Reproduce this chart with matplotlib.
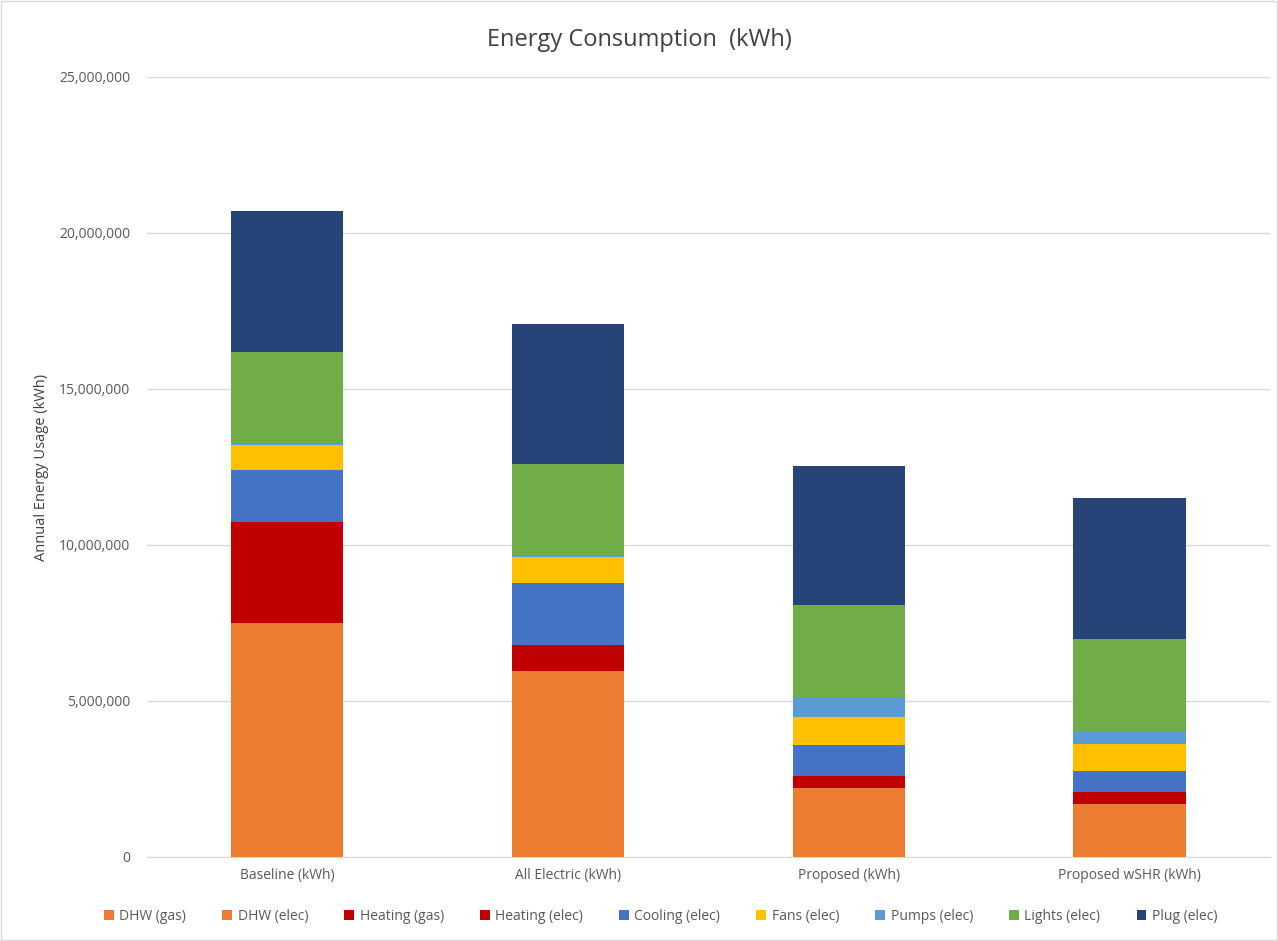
import matplotlib
matplotlib.use("Agg")
import matplotlib.pyplot as plt
import numpy as np
from matplotlib.ticker import FuncFormatter

plt.rcParams['font.family'] = ['Open Sans', 'DejaVu Sans']

categories = ['Baseline (kWh)', 'All Electric (kWh)', 'Proposed (kWh)', 'Proposed wSHR (kWh)']
series = ['DHW (gas)', 'DHW (elec)', 'Heating (gas)', 'Heating (elec)', 'Cooling (elec)',
          'Fans (elec)', 'Pumps (elec)', 'Lights (elec)', 'Plug (elec)']
colors = ['#ED7D31', '#ED7D31', '#C00000', '#C00000', '#4472C4',
          '#FFC000', '#5B9BD5', '#70AD47', '#264478']

dhw_gas = [7500000, 0, 0, 0]
dhw_elec = [0, 5960000, 2210000, 1700000]
heating_gas = [3240000, 0, 0, 0]
heating_elec = [0, 830000, 380000, 380000]
cooling = [1660000, 1990000, 990000, 670000]
fans = [800000, 830000, 900000, 870000]
pumps = [50000, 30000, 640000, 420000]
lights = [2950000, 2950000, 2950000, 2950000]
plug = [4490000, 4490000, 4450000, 4520000]

data = [dhw_gas, dhw_elec, heating_gas, heating_elec, cooling, fans, pumps, lights, plug]

fig = plt.figure(figsize=(12.78, 9.41), dpi=100)
ax = fig.add_axes([0.115, 0.0893, 0.8787, 0.8289])

x = np.arange(len(categories))
bottom = np.zeros(len(categories))
for name, vals, c in zip(series, data, colors):
    ax.bar(x, vals, 0.4, bottom=bottom, color=c, label=name, zorder=3)
    bottom += np.array(vals)

ax.set_xlim(-0.5, 3.5)
ax.set_ylim(0, 25000000)
ax.set_yticks(np.arange(0, 25000001, 5000000))
ax.yaxis.set_major_formatter(FuncFormatter(lambda v, p: '{:,.0f}'.format(v)))
ax.set_xticks(x)
ax.set_xticklabels(categories)
ax.tick_params(axis='both', length=0, colors='#595959', labelsize=10)
ax.tick_params(axis='x', pad=8)
ax.tick_params(axis='y', pad=12)
ax.grid(axis='y', color='#d9d9d9', linewidth=1, zorder=0)
for s in ['top', 'right', 'left']:
    ax.spines[s].set_visible(False)
ax.spines['bottom'].set_color('#d9d9d9')

ax.set_ylabel('Annual Energy Usage (kWh)', color='#404040', fontsize=10.5, labelpad=7)
fig.text(0.5, 0.957, 'Energy Consumption  (kWh)', ha='center', va='center',
         fontsize=17, color='#404040')

handles, labels = ax.get_legend_handles_labels()
fig.legend(handles, labels, loc='center', bbox_to_anchor=(0.517, 0.026), ncol=9,
           frameon=False, fontsize=10, labelcolor='#595959', handlelength=0.7,
           handleheight=0.7, handletextpad=0.4, columnspacing=2.6)

fig.patches.append(plt.Rectangle((0.001, 0.001), 0.998, 0.998, transform=fig.transFigure,
                                 fill=False, edgecolor='#d9d9d9', linewidth=1))

fig.savefig('out.png', dpi=100)
